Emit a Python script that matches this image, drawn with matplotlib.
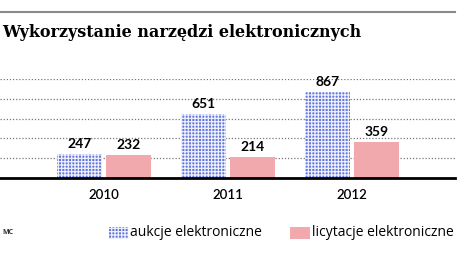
import numpy as np
import matplotlib.pyplot as plt
from matplotlib.patches import Rectangle
from matplotlib.lines import Line2D

years = ["2010", "2011", "2012"]
aukcje = [247, 651, 867]
licytacje = [232, 214, 359]
grid_vals = [200, 400, 600, 800, 1000]

W, H = 458, 262
fig = plt.figure(figsize=(W / 100, H / 100), dpi=100)

# axes placed in pixel terms: baseline y=178, 1000 at y=79
ax = fig.add_axes([0, (H - 178) / H, 455 / W, 99 / H])
ax.set_xlim(-104 / 124, (455 - 104) / 124)
ax.set_ylim(0, 1000)
ax.axis("off")

for g in grid_vals:
    ax.axhline(g, color="#777777", lw=0.9, ls=(0, (1, 1.5)), zorder=0)
ax.axhline(0, color="black", lw=2, zorder=3, clip_on=False)

x = np.arange(len(years))
w = 45 / 124
off = 24.5 / 124
blue = "#6478e0"
plt.rcParams["hatch.linewidth"] = 0.9
ax.bar(x - off, aukcje, w, color=blue, edgecolor="#eef0fb", hatch="+++++",
       lw=0, zorder=2)
ax.bar(x + off, licytacje, w, color="#f2a9ae", lw=0, zorder=2)

for xi, v in zip(x - off, aukcje):
    ax.text(xi, v + 40, str(v), ha="center", va="bottom", fontsize=10,
            fontweight="bold", family="Lato", clip_on=False)
for xi, v in zip(x + off, licytacje):
    ax.text(xi, v + 40, str(v), ha="center", va="bottom", fontsize=10,
            fontweight="bold", family="Lato", clip_on=False)

for xi, yr in zip(x, years):
    ax.text(xi, -170, yr, ha="center", va="center", fontsize=9.5,
            family="Lato", fontweight="semibold", clip_on=False)

# header line and title
fig.add_artist(Line2D([0, 455 / W], [1 - 12 / H, 1 - 12 / H], color="#8a8a8a", lw=1.5))
fig.text(2 / W, 1 - 33 / H, "Wykorzystanie narzędzi elektronicznych",
         fontsize=11.5, fontweight="bold", family="DejaVu Serif", va="center")

# legend
ly = 1 - 233 / H
fig.add_artist(Rectangle((109 / W, ly - 6 / H), 19 / W, 12 / H, transform=fig.transFigure,
                         facecolor=blue, edgecolor="#eef0fb", hatch="+++++", lw=0))
fig.text(130 / W, ly, "aukcje elektroniczne", fontsize=10, family="Open Sans", va="center")
fig.add_artist(Rectangle((290 / W, ly - 6 / H), 20 / W, 12 / H, transform=fig.transFigure,
                         facecolor="#f2a9ae", lw=0))
fig.text(312 / W, ly, "licytacje elektroniczne", fontsize=10, family="Open Sans", va="center")

fig.text(2 / W, ly, "MC", fontsize=5, family="Open Sans", fontweight="bold",
         color="#333333", va="center")

fig.savefig("out.png", dpi=100)
